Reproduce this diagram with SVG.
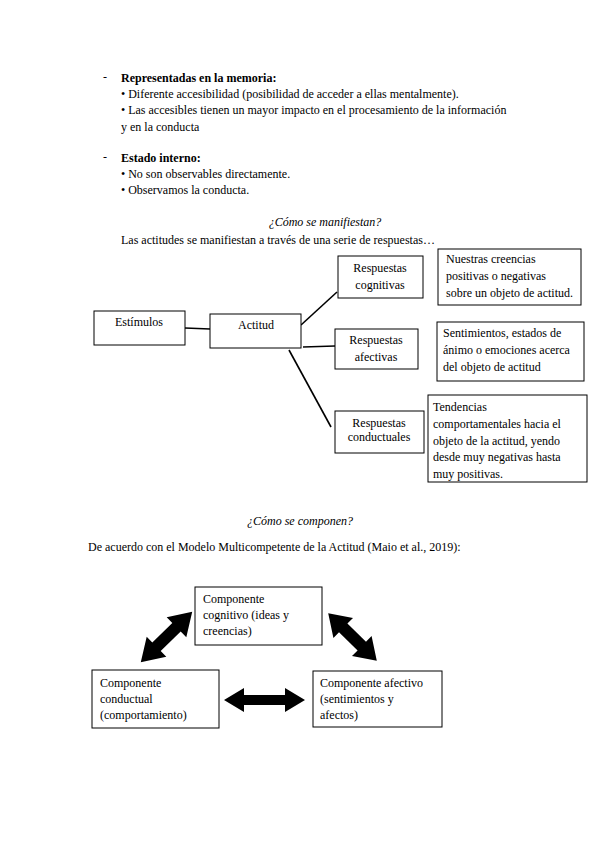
<svg xmlns="http://www.w3.org/2000/svg" width="599" height="848" viewBox="0 0 599 848">
<style>
text{font-family:"Liberation Serif","Times New Roman",serif;font-size:12px;fill:#000}
.b{font-weight:bold}
.i{font-style:italic}
.c{text-anchor:middle}
.box{fill:#fff;stroke:#000;stroke-width:1}
.ln{stroke:#000;stroke-width:1.6;fill:none}
.ar{fill:#000}
</style>
<rect width="599" height="848" fill="#fff"/>
<g id="text-top">
<text x="103" y="81">-</text>
<text x="121" y="82" class="b">Representadas en la memoria:</text>
<text x="121" y="98">• Diferente accesibilidad (posibilidad de acceder a ellas mentalmente).</text>
<text x="121" y="114">• Las accesibles tienen un mayor impacto en el procesamiento de la información</text>
<text x="121" y="131">y en la conducta</text>
<text x="103" y="161">-</text>
<text x="121" y="162" class="b">Estado interno:</text>
<text x="121" y="178">• No son observables directamente.</text>
<text x="121" y="194">• Observamos la conducta.</text>
<text x="325" y="226" class="i c">¿Cómo se manifiestan?</text>
<text x="121" y="244">Las actitudes se manifiestan a través de una serie de respuestas…</text>
</g>
<g id="connectors">
<line class="ln" x1="185" y1="328" x2="210" y2="329"/>
<line class="ln" x1="301" y1="325" x2="337" y2="292"/>
<line class="ln" x1="303" y1="347" x2="335" y2="346"/>
<line class="ln" x1="289" y1="350" x2="331" y2="427"/>
</g>
<g id="estimulos"><rect class="box" x="94" y="311" width="91" height="34"/><text x="139" y="326" class="c">Estímulos</text></g>
<g id="actitud"><rect class="box" x="210" y="314" width="91" height="34"/><text x="256" y="329" class="c">Actitud</text></g>
<g id="cognitivas"><rect class="box" x="338" y="256" width="85" height="42"/><text x="380" y="272" class="c">Respuestas</text><text x="380" y="289" class="c">cognitivas</text></g>
<g id="cognitivas-desc"><rect class="box" x="438" y="249" width="143" height="56"/><text x="446" y="263">Nuestras creencias</text><text x="446" y="280">positivas o negativas</text><text x="446" y="297">sobre un objeto de actitud.</text></g>
<g id="afectivas"><rect class="box" x="335" y="329" width="83" height="40"/><text x="376" y="344" class="c">Respuestas</text><text x="376" y="361" class="c">afectivas</text></g>
<g id="afectivas-desc"><rect class="box" x="437" y="322" width="147" height="59"/><text x="443" y="337">Sentimientos, estados de</text><text x="443" y="354">ánimo o emociones acerca</text><text x="443" y="371">del objeto de actitud</text></g>
<g id="conductuales"><rect class="box" x="335" y="411" width="89" height="42"/><text x="379" y="427" class="c">Respuestas</text><text x="379" y="441" class="c">conductuales</text></g>
<g id="conductuales-desc"><rect class="box" x="428" y="395" width="159" height="87"/><text x="433" y="411">Tendencias</text><text x="433" y="428">comportamentales hacia el</text><text x="433" y="445">objeto de la actitud, yendo</text><text x="433" y="461">desde muy negativas hasta</text><text x="433" y="478">muy positivas.</text></g>
<g id="text-mid">
<text x="300" y="525" class="i c">¿Cómo se componen?</text>
<text x="88" y="551">De acuerdo con el Modelo Multicompetente de la Actitud (Maio et al., 2019):</text>
</g>
<g id="arrows">
<polygon class="ar" transform="translate(166.5,637) rotate(-44.4)" points="-36,0 -14,-14 -14,-6 14,-6 14,-14 36,0 14,14 14,6 -14,6 -14,14"/>
<polygon class="ar" transform="translate(352.5,637) rotate(44.4)" points="-34,0 -13,-14 -13,-6 13,-6 13,-14 34,0 13,14 13,6 -13,6 -13,14"/>
<polygon class="ar" points="224,700 244,688 244,695 285,695 285,688 305,700 285,712 285,705 244,705 244,712"/>
</g>
<g id="comp-cognitivo"><rect class="box" x="195" y="587" width="127" height="58"/><text x="203" y="603">Componente</text><text x="203" y="619">cognitivo (ideas y</text><text x="203" y="635">creencias)</text></g>
<g id="comp-conductual"><rect class="box" x="92" y="670" width="127" height="58"/><text x="100" y="687">Componente</text><text x="100" y="703">conductual</text><text x="100" y="719">(comportamiento)</text></g>
<g id="comp-afectivo"><rect class="box" x="313" y="671" width="129" height="56"/><text x="320" y="687">Componente afectivo</text><text x="320" y="703">(sentimientos y</text><text x="320" y="719">afectos)</text></g>
</svg>
